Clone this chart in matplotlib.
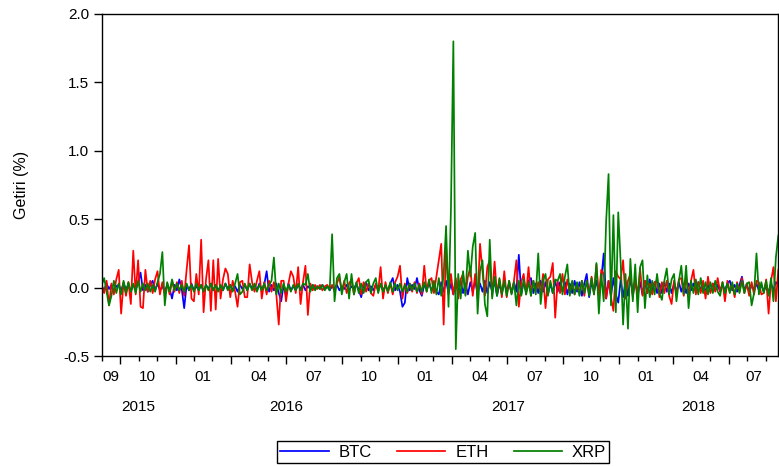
import matplotlib
matplotlib.use("Agg")
import matplotlib.pyplot as plt
import matplotlib.dates as mdates
import matplotlib.transforms as mtransforms
import pandas as pd
import numpy as np

# daily returns, one value every 4 days from 2015-09-01
start_date = "2015-09-01"
step = "4D"

btc = [
    0.01, -0.02, 0.03, -0.01, 0.02, -0.03, 0.01, 0.02, -0.02, 0.03,
    -0.01, 0.02, -0.03, 0.02, -0.01, 0.03, 0.11, -0.02, 0.02, -0.03,
    0.02, 0.05, -0.02, 0.03, -0.02, 0.01, -0.03, 0.02, -0.01, -0.08,
    0.02, -0.02, 0.06, -0.01, -0.15, 0.02, -0.02, 0.03, -0.02, 0.01,
    -0.02, 0.02, -0.03, 0.02, -0.01, 0.03, -0.02, 0.02, -0.02, 0.01,
    -0.02, 0.03, -0.01, 0.02, -0.02, 0.01, -0.03, 0.02, -0.01, 0.02,
    -0.02, 0.03, -0.01, 0.02, -0.02, 0.03, -0.01, 0.02, 0.12, -0.03,
    0.02, -0.02, 0.03, -0.04, -0.10, 0.02, -0.06, 0.03, -0.02, 0.01,
    -0.02, 0.02, -0.01, 0.02, -0.02, 0.01, -0.01, 0.02, -0.01, 0.01,
    -0.01, 0.02, -0.01, 0.01, -0.02, 0.01, -0.01, 0.02, -0.02, 0.01,
    -0.01, 0.02, -0.02, 0.01, -0.01, 0.03, -0.02, -0.07, 0.02, 0.04,
    -0.02, 0.01, -0.02, 0.02, -0.01, 0.02, -0.02, 0.01, -0.02, 0.03,
    0.07, -0.02, 0.02, -0.03, -0.14, -0.11, 0.07, -0.02, 0.02, -0.01,
    0.07, -0.02, -0.06, 0.02, -0.01, 0.03, -0.02, 0.02, -0.03, -0.05,
    0.04, -0.03, 0.05, -0.04, 0.03, -0.05, 0.04, -0.03, 0.05, -0.04,
    0.03, -0.05, 0.04, -0.03, 0.05, -0.04, 0.03, -0.03, 0.05, -0.04,
    0.04, -0.03, 0.05, -0.06, 0.03, -0.04, 0.04, -0.03, 0.03, -0.04,
    0.04, -0.03, 0.24, -0.05, 0.04, -0.03, 0.05, 0.07, -0.04, 0.03,
    -0.04, 0.05, -0.03, 0.04, -0.05, 0.03, -0.04, 0.05, -0.03, 0.04,
    -0.03, 0.04, -0.05, 0.03, -0.04, 0.05, -0.03, 0.04, -0.06, 0.03,
    0.10, -0.07, 0.04, -0.03, 0.05, -0.04, 0.06, 0.25, -0.08, 0.05,
    -0.06, 0.07, -0.05, -0.11, 0.06, -0.07, 0.05, -0.06, 0.07, -0.05,
    0.05, -0.06, 0.04, -0.05, 0.05, -0.04, 0.06, -0.03, 0.04, -0.04,
    0.03, -0.04, 0.04, -0.03, 0.03, -0.04, 0.03, -0.03, 0.04, -0.03,
    0.03, -0.04, 0.03, -0.02, 0.03, -0.03, 0.04, -0.02, 0.03, -0.03,
    0.02, -0.03, 0.03, -0.02, 0.02, -0.03, 0.02, -0.02, 0.03, 0.05,
    -0.02, 0.02, -0.03, 0.02, 0.08, -0.02, 0.02, -0.03, 0.02, -0.02,
    0.03, -0.02, 0.02, -0.03, 0.02, -0.04, 0.03, -0.02, 0.04, 0.02,
]

eth = [
    0.02, -0.04, 0.05, -0.13, 0.03, -0.05, 0.06, 0.13, -0.19, 0.04,
    -0.06, 0.04, -0.12, 0.27, -0.05, 0.20, -0.14, -0.15, 0.13, -0.03,
    0.05, -0.04, 0.06, 0.12, -0.05, 0.04, -0.06, 0.03, -0.05, 0.05,
    -0.03, 0.04, -0.04, 0.05, -0.06, 0.13, 0.31, -0.08, -0.10, 0.10,
    -0.05, 0.35, -0.18, 0.06, 0.20, -0.17, 0.20, -0.16, 0.21, -0.08,
    0.06, 0.14, 0.10, -0.07, 0.05, -0.03, -0.14, 0.04, 0.05, -0.07,
    -0.07, 0.17, 0.04, -0.03, 0.05, 0.12, -0.08, 0.04, -0.05, 0.05,
    -0.03, 0.04, -0.05, -0.27, 0.05, 0.05, -0.10, 0.03, 0.12, 0.08,
    -0.04, 0.15, -0.12, 0.04, 0.16, -0.20, 0.03, -0.02, 0.02, -0.01,
    0.02, -0.02, 0.01, 0.02, -0.01, 0.02, -0.03, 0.03, 0.08, -0.03,
    0.05, -0.04, 0.03, 0.06, -0.05, 0.03, 0.07, -0.05, 0.04, -0.03,
    0.03, -0.04, -0.06, 0.03, -0.03, 0.15, -0.08, 0.04, -0.04, 0.03,
    -0.05, 0.04, 0.08, 0.16, -0.08, 0.03, -0.04, 0.03, -0.03, 0.04,
    -0.04, 0.03, -0.05, 0.16, -0.03, 0.05, 0.07, -0.04, 0.08, 0.20,
    0.32, -0.27, 0.30, -0.05, 0.10, -0.05, 0.07, -0.08, 0.06, 0.10,
    -0.05, 0.08, 0.15, -0.06, 0.10, -0.08, 0.32, 0.12, -0.06, 0.15,
    0.20, -0.06, 0.19, -0.05, 0.06, -0.07, 0.12, -0.07, 0.05, -0.04,
    0.05, 0.20, -0.14, 0.04, 0.10, -0.05, 0.15, -0.06, 0.05, -0.03,
    0.04, -0.05, 0.10, -0.15, 0.06, 0.08, 0.18, -0.22, 0.05, -0.04,
    0.10, -0.05, 0.06, -0.04, 0.04, -0.05, 0.03, -0.04, 0.05, -0.06,
    0.05, -0.04, 0.08, -0.05, 0.17, -0.06, 0.13, 0.10, -0.08, 0.05,
    -0.07, -0.17, 0.12, 0.08, 0.06, 0.20, -0.08, 0.05, 0.10, -0.07,
    0.06, -0.05, 0.14, -0.06, 0.05, -0.04, 0.03, -0.05, 0.04, 0.05,
    -0.07, 0.04, -0.04, 0.05, -0.06, -0.12, 0.05, -0.05, 0.06, 0.07,
    -0.06, 0.08, -0.05, 0.05, 0.13, -0.05, 0.04, -0.04, 0.05, -0.08,
    0.08, -0.04, 0.03, -0.03, 0.07, -0.03, 0.04, -0.10, 0.05, -0.03,
    0.03, -0.07, 0.04, -0.03, 0.07, -0.04, 0.03, -0.06, 0.04, -0.05,
    0.05, 0.04, -0.05, -0.04, 0.06, -0.19, 0.05, 0.15, -0.10, 0.13,
]

xrp = [
    0.02, 0.07, -0.03, -0.13, -0.06, 0.05, -0.04, 0.03, -0.05, 0.05,
    -0.04, 0.04, -0.03, 0.03, -0.04, 0.05, -0.03, 0.03, -0.02, 0.03,
    -0.03, 0.02, -0.03, 0.04, 0.10, 0.26, -0.13, 0.04, -0.03, 0.06,
    -0.02, 0.03, -0.02, 0.02, -0.03, 0.03, -0.02, 0.02, -0.03, 0.03,
    -0.02, 0.02, -0.03, 0.02, -0.02, 0.03, -0.02, 0.02, -0.03, 0.02,
    -0.02, 0.03, -0.02, 0.02, -0.03, 0.03, 0.10, -0.05, -0.03, 0.03,
    -0.02, 0.03, -0.02, 0.03, -0.03, 0.02, -0.02, 0.03, -0.02, 0.02,
    0.05, 0.22, -0.05, 0.03, -0.04, 0.03, -0.03, 0.02, -0.03, 0.02,
    -0.02, 0.03, -0.02, 0.03, 0.02, 0.10, -0.03, 0.02, -0.02, 0.01,
    -0.01, 0.02, -0.02, 0.01, -0.02, 0.39, -0.10, 0.07, 0.10, -0.05,
    0.04, 0.10, -0.08, 0.10, -0.05, 0.04, -0.04, 0.03, -0.04, 0.04,
    0.06, -0.04, 0.03, 0.07, -0.04, 0.03, -0.03, 0.02, -0.03, 0.04,
    -0.03, 0.03, -0.02, 0.03, -0.03, 0.02, -0.03, 0.03, -0.02, 0.03,
    -0.03, 0.02, -0.03, 0.04, -0.03, 0.06, -0.04, 0.05, -0.05, 0.07,
    -0.06, 0.10, 0.45, -0.14, 0.57, 1.80, -0.45, 0.10, -0.08, 0.12,
    -0.06, 0.27, 0.08, 0.30, 0.40, -0.19, 0.12, 0.20, -0.12, -0.21,
    0.35, -0.08, 0.08, -0.06, 0.07, -0.05, 0.05, -0.06, 0.05, -0.05,
    0.04, -0.13, 0.05, -0.06, 0.06, -0.05, 0.04, -0.06, 0.05, -0.05,
    0.25, -0.12, 0.05, 0.10, -0.06, 0.05, -0.04, 0.06, 0.05, 0.10,
    -0.05, 0.08, 0.17, -0.06, 0.05, -0.05, 0.04, -0.06, 0.05, -0.04,
    0.05, -0.06, 0.07, -0.05, 0.18, -0.19, 0.10, -0.10, 0.48, 0.83,
    -0.13, 0.53, -0.18, 0.55, 0.18, -0.27, 0.10, -0.30, 0.21, -0.10,
    0.17, -0.18, 0.15, 0.20, -0.15, 0.09, -0.07, 0.05, -0.05, 0.10,
    -0.04, -0.09, 0.05, 0.14, -0.05, 0.06, 0.10, -0.10, 0.05, 0.16,
    -0.05, 0.16, -0.15, 0.05, -0.04, 0.06, -0.05, 0.07, -0.04, 0.04,
    -0.05, 0.04, -0.04, 0.05, -0.03, -0.06, 0.04, -0.04, 0.03, -0.04,
    0.04, -0.05, 0.03, -0.04, 0.05, -0.04, 0.03, 0.04, -0.13, -0.04,
    0.25, -0.05, 0.04, -0.04, 0.05, -0.06, 0.07, -0.10, 0.22, 0.38,
]

series_names = ["BTC", "ETH", "XRP"]
series_colors = ["#0000ff", "#ff0000", "#008000"]

dates = pd.date_range(start_date, periods=len(eth), freq=step)

plt.rcParams["font.family"] = ["Liberation Sans", "DejaVu Sans"]

fig = plt.figure(figsize=(7.79, 4.66), dpi=100)
ax = fig.add_axes([0.1306, 0.236, 0.8685, 0.734])

for vals, name, col in zip([btc, eth, xrp], series_names, series_colors):
    ax.plot(dates, vals, color=col, lw=1.25, label=name)

ax.set_xlim(dates[0], dates[-1])
ax.set_ylim(-0.5, 2.0)
yt = np.arange(-0.5, 2.01, 0.5)
ax.set_yticks(yt)
ax.set_yticklabels([f"{v:.1f}" for v in yt], fontsize=11)
ax.tick_params(axis="y", direction="out", length=6, width=1, pad=3)

ax.xaxis.set_major_locator(mdates.MonthLocator(bymonth=[1, 4, 7, 10]))
ax.xaxis.set_minor_locator(mdates.MonthLocator())
ax.tick_params(axis="x", which="major", direction="out", length=6, width=1, labelbottom=False)
ax.tick_params(axis="x", which="minor", direction="out", length=3.5, width=1)

for s in ax.spines.values():
    s.set_linewidth(1.0)

# quarter and year labels centred on the visible part of each period
trans = mtransforms.blended_transform_factory(ax.transData, ax.transAxes)
x0 = pd.Timestamp(mdates.num2date(ax.get_xlim()[0])).tz_localize(None)
x1 = pd.Timestamp(mdates.num2date(ax.get_xlim()[1])).tz_localize(None)

for q in pd.period_range(x0, x1, freq="Q"):
    a = max(q.start_time, x0)
    b = min(q.end_time, x1)
    mid = a + (b - a) / 2
    ax.text(mid, -0.06, f"{a.month:02d}", transform=trans, ha="center", va="center", fontsize=11)

for y in pd.period_range(x0, x1, freq="Y"):
    a = max(y.start_time, x0)
    b = min(y.end_time, x1)
    mid = a + (b - a) / 2
    ax.text(mid, -0.148, str(y.year), transform=trans, ha="center", va="center", fontsize=11)

ax.set_ylabel("Getiri (%)", fontsize=11.5)
ax.yaxis.set_label_coords(-0.108, 0.5)

leg = fig.legend(loc="center", bbox_to_anchor=(0.569, 0.030), ncol=3, fontsize=12,
                 frameon=True, fancybox=False, edgecolor="black", framealpha=1,
                 handlelength=2.9, handletextpad=0.6, columnspacing=1.5, borderpad=0.2)
leg.get_frame().set_linewidth(1.0)

fig.savefig("out.png", dpi=100)
